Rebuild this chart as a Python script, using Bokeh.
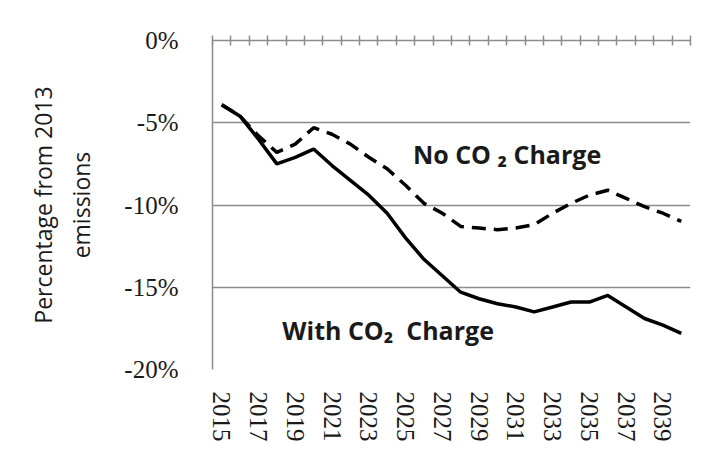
from bokeh.plotting import figure
from bokeh.models import Range1d, LinearAxis, FixedTicker, PrintfTickFormatter, Label
from bokeh.embed import file_html
from bokeh.resources import INLINE

years = list(range(2015, 2041))
with_co2 = [-3.9, -4.6, -6.0, -7.5, -7.1, -6.6, -7.6, -8.5, -9.4, -10.5, -12.0, -13.3,
            -14.3, -15.3, -15.7, -16.0, -16.2, -16.5, -16.2, -15.9, -15.9, -15.5,
            -16.2, -16.9, -17.3, -17.8]
no_co2 = [-3.9, -4.6, -5.8, -6.8, -6.3, -5.3, -5.7, -6.3, -7.1, -7.8, -8.8, -9.9,
          -10.5, -11.3, -11.4, -11.5, -11.4, -11.2, -10.5, -9.9, -9.4, -9.1, -9.6,
          -10.1, -10.5, -11.0]
y_ticks = [0, -5, -10, -15, -20]
x_label_years = list(range(2015, 2040, 2))
boundaries = [y - 0.5 for y in range(2015, 2042)]

GRAY = "#8c8c8c"
TXT = "#1a1a1a"

p = figure(width=715, height=445, output_backend="svg", toolbar_location=None,
           x_range=Range1d(2014.5, 2040.5), y_range=Range1d(-20, 0),
           x_axis_location=None, y_axis_location=None,
           min_border_left=212, min_border_right=25, min_border_top=40,
           min_border_bottom=76)
p.outline_line_color = None
p.background_fill_color = "white"
p.border_fill_color = "white"

# left axis
yax = LinearAxis(ticker=FixedTicker(ticks=y_ticks),
                 formatter=PrintfTickFormatter(format="%d%%"))
yax.axis_line_color = GRAY
yax.axis_line_width = 1.5
yax.major_tick_line_color = None
yax.minor_tick_line_color = None
yax.major_label_standoff = 28
yax.major_label_text_font = "Liberation Serif"
yax.major_label_text_font_size = "25px"
yax.major_label_text_color = TXT
yax.axis_label = "Percentage from 2013\nemissions"
yax.axis_label_text_font = "Open Sans"
yax.axis_label_text_font_style = "normal"
yax.axis_label_text_font_size = "23px"
yax.axis_label_text_color = TXT
yax.axis_label_standoff = 24
p.add_layout(yax, "left")

# bottom labels
xax = LinearAxis(ticker=FixedTicker(ticks=x_label_years))
xax.axis_line_color = None
xax.major_tick_line_color = None
xax.minor_tick_line_color = None
xax.major_label_orientation = "vertical"
xax.major_label_standoff = 16
xax.major_label_text_font = "Liberation Serif"
xax.major_label_text_font_size = "25px"
xax.major_label_text_color = TXT
p.add_layout(xax, "below")

# category axis at 0% with crossing ticks
tax = LinearAxis(ticker=FixedTicker(ticks=boundaries))
tax.axis_line_color = GRAY
tax.axis_line_width = 1.5
tax.major_tick_line_color = GRAY
tax.major_tick_line_width = 1.5
tax.major_tick_in = 5
tax.major_tick_out = 5
tax.minor_tick_line_color = None
tax.major_label_text_font_size = "0px"
tax.major_label_text_alpha = 0
p.add_layout(tax, "above")

p.xgrid.visible = False
p.ygrid.ticker = FixedTicker(ticks=y_ticks)
p.ygrid.grid_line_color = GRAY
p.ygrid.grid_line_width = 1.5

p.line(years, no_co2, line_color="black", line_width=3.5, line_dash="14 8")
p.line(years, with_co2, line_color="black", line_width=3.5)

p.add_layout(Label(x=2025.4, y=-6.9, text="No CO ₂ Charge", text_font="Open Sans",
                   text_font_style="bold", text_font_size="25px", text_color=TXT,
                   text_baseline="middle"))
p.add_layout(Label(x=2018.3, y=-17.6, text="With CO₂\u00a0 Charge", text_font="Open Sans",
                   text_font_style="bold", text_font_size="25px", text_color=TXT,
                   text_baseline="middle"))

open("out.html", "w").write(file_html(p, INLINE))
